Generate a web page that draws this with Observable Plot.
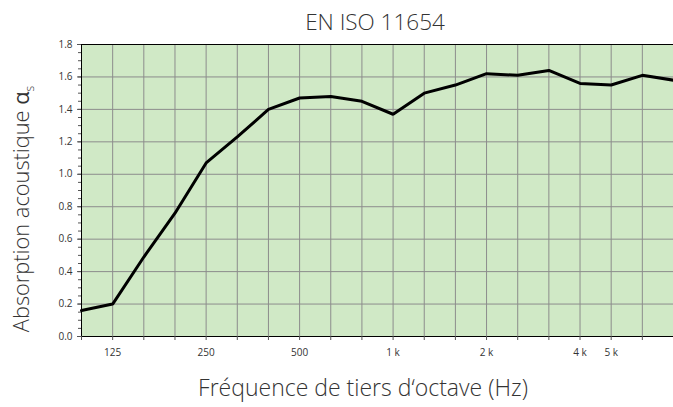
<!DOCTYPE html>
<html>
<head>
<meta charset="utf-8">
<script src="https://cdn.jsdelivr.net/npm/d3@7"></script>
<script src="https://cdn.jsdelivr.net/npm/@observablehq/plot@0.6"></script>
<style>
  html, body { margin: 0; padding: 0; background: #fff; }
  #wrap { position: relative; width: 673px; height: 407px; overflow: hidden; font-family: "Open Sans", sans-serif; }
  #title { position: absolute; left: 375px; top: 21px; transform: translate(-50%, -50%); font-size: 22.5px; font-weight: 300; color: #333; white-space: nowrap; }
  #ylab { position: absolute; left: 22px; top: 209px; transform: translate(-50%, -50%) rotate(-90deg); font-size: 21.8px; font-weight: 300; color: #333; white-space: nowrap; }
  #xlab { position: absolute; left: 363px; top: 387px; transform: translate(-50%, -50%); font-size: 23px; font-weight: 300; color: #333; white-space: nowrap; }
  #chart { position: absolute; left: 0; top: 0; }
</style>
</head>
<body>
<div id="wrap">
  <div id="chart"></div>
  <div id="title">EN ISO 11654</div>
  <div id="ylab">Absorption acoustique <b>α</b><sub style="font-size:12px">s</sub></div>
  <div id="xlab">Fréquence de tiers d‘octave (Hz)</div>
</div>
<script>
const bands = ["100","125","160","200","250","315","400","500","630","800","1000","1250","1600","2000","2500","3150","4000","5000","6300","8000"];
const absorption = [0.16,0.20,0.49,0.76,1.07,1.23,1.40,1.47,1.48,1.45,1.37,1.50,1.55,1.62,1.61,1.64,1.56,1.55,1.61,1.58];
const xTickLabels = ["","125","","","250","","","500","","","1 k","","","2 k","","","4 k","5 k","",""];
const yTicks = [0,0.2,0.4,0.6,0.8,1.0,1.2,1.4,1.6,1.8];
const yMinorTicks = d3.range(0, 1.8001, 0.05).map(v => +v.toFixed(2));

const data = bands.map((b, i) => ({i, band: b, v: absorption[i]}));
const idx = bands.map((b, i) => i);

const chart = Plot.plot({
  width: 673,
  height: 407,
  marginLeft: 81,
  marginRight: 0,
  marginTop: 44,
  marginBottom: 71,
  style: {fontFamily: "Open Sans, sans-serif", fontSize: "10px", color: "#333", background: "transparent"},
  x: {type: "linear", domain: [0, bands.length - 1]},
  y: {domain: [0, 1.8]},
  marks: [
    Plot.frame({fill: "#d0e9c6", stroke: null}),
    Plot.ruleX(idx.slice(1), {stroke: "#8c8c8c", strokeWidth: 1}),
    Plot.ruleY(yTicks.slice(1, -1), {stroke: "#8c8c8c", strokeWidth: 1}),
    Plot.ruleY([1.8], {stroke: "#000", strokeWidth: 1}),
    Plot.ruleY([0], {stroke: "#000", strokeWidth: 1}),
    Plot.ruleX([0], {stroke: "#000", strokeWidth: 1}),
    Plot.axisX({ticks: idx, tickFormat: i => xTickLabels[i], tickSize: 4, tickPadding: 8, stroke: "#555", label: null, fontSize: 10}),
    Plot.axisY({ticks: yMinorTicks, tickFormat: null, text: null, tickSize: 3, stroke: "#555", label: null}),
    Plot.axisY({ticks: yTicks, tickFormat: d3.format(".1f"), tickSize: 4, tickPadding: 5, stroke: "#555", label: null, fontSize: 10}),
    Plot.line(data, {x: "i", y: "v", stroke: "#000", strokeWidth: 3, strokeLinejoin: "miter"})
  ]
});
document.getElementById("chart").appendChild(chart);
</script>
</body>
</html>
